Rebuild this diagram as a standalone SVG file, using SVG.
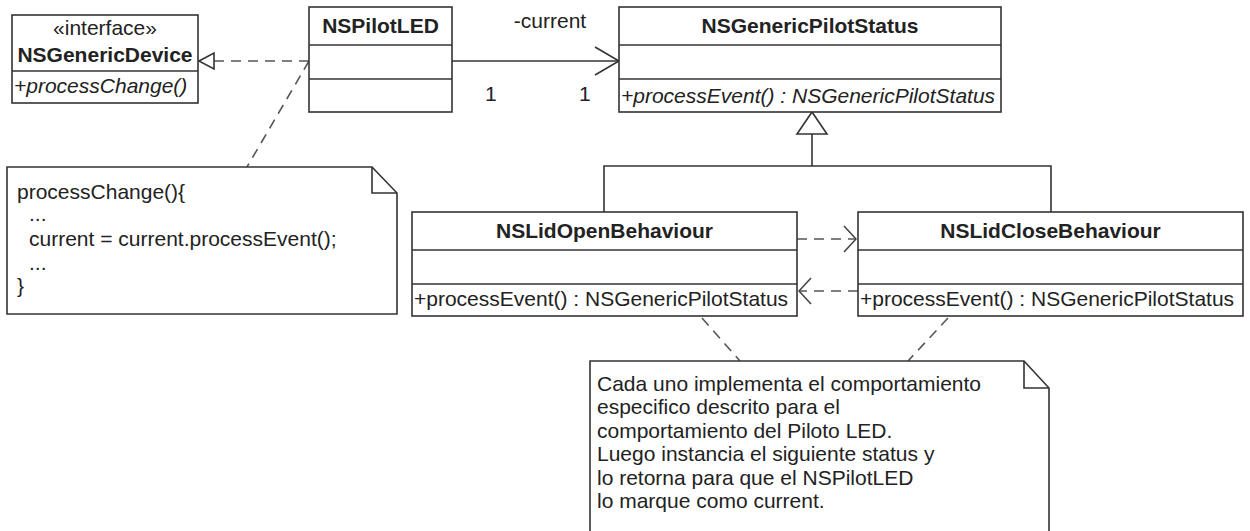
<svg xmlns="http://www.w3.org/2000/svg" width="1250" height="531" viewBox="0 0 1250 531">
<defs>
<style>
.box{fill:#fff;stroke:#333;stroke-width:1.6}
.ln{fill:none;stroke:#333;stroke-width:1.6}
.dash{fill:none;stroke:#555;stroke-width:1.6;stroke-dasharray:10,7}
.t{font-family:"Liberation Sans",Arial,sans-serif;font-size:21px;fill:#222}
.b{font-weight:bold;text-anchor:middle}
.i{font-style:italic}
.c{text-anchor:middle}
</style>
<marker id="open" viewBox="0 0 14 28" refX="13" refY="14" markerWidth="14" markerHeight="28" markerUnits="userSpaceOnUse" orient="auto">
<path d="M1,1 L13,14 L1,27" fill="none" stroke="#444" stroke-width="1.6"/>
</marker>
</defs>
<rect width="1250" height="531" fill="#fff"/>

<g id="connectors">
<line class="dash" x1="309" y1="61" x2="214" y2="61"/>
<polygon points="199,61 214,53 214,69" fill="#fff" stroke="#333" stroke-width="1.6"/>
<line class="ln" x1="452" y1="61" x2="619" y2="61"/>
<path class="ln" d="M595,47 L619,61 L595,75"/>
<text class="t c" x="550" y="28">-current</text>
<text class="t" x="485" y="101">1</text>
<text class="t" x="579" y="101">1</text>
<line class="dash" x1="309" y1="61" x2="247" y2="167"/>
<polyline class="ln" points="604,212 604,166 1051,166 1051,212"/>
<line class="ln" x1="812" y1="166" x2="812" y2="134"/>
<polygon points="812,112 797,134 827,134" fill="#fff" stroke="#333" stroke-width="1.6"/>
<line class="dash" x1="797" y1="239" x2="856" y2="239" marker-end="url(#open)"/>
<line class="dash" x1="858" y1="291" x2="799" y2="291" marker-end="url(#open)"/>
<line class="dash" x1="702" y1="318" x2="740" y2="361"/>
<line class="dash" x1="948" y1="318" x2="908" y2="361"/>
</g>

<g id="NSGenericDevice">
<rect class="box" x="12" y="15" width="186" height="88"/>
<line class="ln" x1="12" y1="71" x2="198" y2="71"/>
<text class="t c" x="105" y="35">«interface»</text>
<text class="t b" x="105" y="62">NSGenericDevice</text>
<text class="t i" x="14" y="93">+processChange()</text>
</g>

<g id="NSPilotLED">
<rect class="box" x="309" y="7" width="143" height="105"/>
<line class="ln" x1="309" y1="45" x2="452" y2="45"/>
<line class="ln" x1="309" y1="79" x2="452" y2="79"/>
<text class="t b" x="380.5" y="33">NSPilotLED</text>
</g>

<g id="NSGenericPilotStatus">
<rect class="box" x="619" y="7" width="382" height="105"/>
<line class="ln" x1="619" y1="45" x2="1001" y2="45"/>
<line class="ln" x1="619" y1="79" x2="1001" y2="79"/>
<text class="t b" x="810" y="33">NSGenericPilotStatus</text>
<text class="t i" x="621" y="103">+processEvent() : NSGenericPilotStatus</text>
</g>

<g id="NSLidOpenBehaviour">
<rect class="box" x="412" y="212" width="385" height="104"/>
<line class="ln" x1="412" y1="250" x2="797" y2="250"/>
<line class="ln" x1="412" y1="284" x2="797" y2="284"/>
<text class="t b" x="604.5" y="238">NSLidOpenBehaviour</text>
<text class="t" x="414" y="306">+processEvent() : NSGenericPilotStatus</text>
</g>

<g id="NSLidCloseBehaviour">
<rect class="box" x="858" y="212" width="385" height="104"/>
<line class="ln" x1="858" y1="250" x2="1243" y2="250"/>
<line class="ln" x1="858" y1="284" x2="1243" y2="284"/>
<text class="t b" x="1050.5" y="238">NSLidCloseBehaviour</text>
<text class="t" x="860" y="306">+processEvent() : NSGenericPilotStatus</text>
</g>

<g id="note1">
<path class="box" d="M7,167 L372,167 L397,193 L397,314 L7,314 Z"/>
<path class="ln" d="M372,167 L372,193 L397,193"/>
<text class="t" x="17" y="199">processChange(){</text>
<text class="t" x="29" y="221">...</text>
<text class="t" x="29" y="246">current = current.processEvent();</text>
<text class="t" x="29" y="270">...</text>
<text class="t" x="17" y="293">}</text>
</g>

<g id="note2">
<path class="box" d="M590,361 L1024,361 L1049,388 L1049,540 L590,540 Z"/>
<path class="ln" d="M1024,361 L1024,388 L1049,388"/>
<text class="t" x="597" y="391">Cada uno implementa el comportamiento</text>
<text class="t" x="597" y="414">especifico descrito para el</text>
<text class="t" x="597" y="438">comportamiento del Piloto LED.</text>
<text class="t" x="597" y="461">Luego instancia el siguiente status y</text>
<text class="t" x="597" y="485">lo retorna para que el NSPilotLED</text>
<text class="t" x="597" y="508">lo marque como current.</text>
</g>
</svg>
